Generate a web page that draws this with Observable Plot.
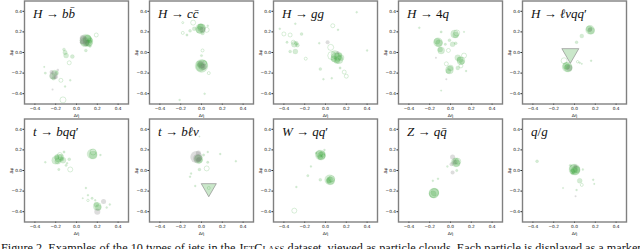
<!DOCTYPE html>
<html><head><meta charset="utf-8">
<script src="https://cdn.jsdelivr.net/npm/d3@7"></script>
<script src="https://cdn.jsdelivr.net/npm/@observablehq/plot@0.6"></script>
<style>
html,body{margin:0;padding:0;background:#fff;overflow:hidden;}
#wrap{position:relative;width:640px;height:249px;overflow:hidden;background:#fff;}
#cap{position:absolute;left:1px;white-space:nowrap;font-family:"Liberation Serif","Times New Roman",serif;color:#111;line-height:1;}
#cap .sc{font-variant:small-caps;}
</style></head><body><div id="wrap"></div>
<script>
// Jet titles (categories)
const titles = ["H → bb\u0304", "H → cc\u0304", "H → gg", "H → 4q", "H → ℓνqq′",
                "t → bqq′", "t → bℓν", "W → qq′", "Z → qq\u0304", "q/g"];
const ticks = [-0.4, -0.2, 0, 0.2, 0.4];
// particles: [Δη, Δφ, size, type]  type: ch = charged, nh = neutral, ph = photon, lep = lepton
const hbb = [
 [0.09,0.12,6,"ch"],[0.11,0.11,5,"ch"],[0.08,0.10,4.5,"ch"],[0.10,0.13,4,"ch"],[0.12,0.09,3.5,"ch"],[0.07,0.12,4,"ph"],[0.09,0.09,3,"ph"],[0.06,0.14,3,"ph"],[0.11,0.14,3,"nh"],[0.13,0.12,2.5,"ch"],[0.10,0.10,2.5,"ch"],[0.05,0.10,2,"ph"],
 [0.19,0.17,2,"nh"],[0.09,0.02,1.5,"ch"],[0.13,0.06,1.2,"ch"],
 [-0.22,-0.22,4,"ph"],[-0.21,-0.20,3,"ch"],[-0.23,-0.23,3,"ch"],[-0.20,-0.24,2,"ph"],[-0.24,-0.19,2,"ph"],[-0.19,-0.20,2,"ch"],[-0.22,-0.25,2,"ch"],[-0.18,-0.17,1.2,"ph"],
 [-0.11,0.00,2.2,"ch"],[-0.12,0.03,1.5,"ch"],[-0.10,-0.03,2.5,"ch"],[-0.04,-0.04,2,"ch"],[-0.07,-0.10,2,"nh"],[-0.15,-0.27,2,"nh"],[-0.06,-0.27,1,"ch"],[-0.11,-0.33,1,"ch"],[-0.23,-0.36,1,"ph"],[-0.30,-0.20,1.2,"ch"],[-0.31,-0.14,0.8,"ch"],[-0.13,-0.46,3,"nh"]
];
const hcc = [
 [-0.01,0.23,5,"ch"],[0.00,0.24,4,"ch"],[-0.02,0.22,3.5,"ch"],[0.01,0.22,3,"ph"],[-0.01,0.25,3,"ch"],[0.05,0.22,2.5,"nh"],[-0.08,0.29,2.5,"nh"],[-0.18,0.29,1,"nh"],[-0.11,0.21,1.5,"ch"],[-0.18,0.19,1.5,"nh"],[-0.14,0.17,1.2,"ch"],[-0.07,0.23,2,"ch"],[0.01,0.19,2,"ch"],[0.06,0.26,1,"ch"],
 [0.00,-0.13,6.5,"ch"],[0.01,-0.12,5,"ch"],[-0.01,-0.14,4.5,"ch"],[0.00,-0.12,3.5,"ph"],[0.02,-0.14,3,"ph"],[-0.02,-0.11,3,"ch"],[0.00,-0.13,2.5,"ch"],[0.03,-0.10,2,"nh"],
 [0.01,0.02,1.5,"nh"],[0.00,-0.03,1.2,"ch"],[0.07,-0.20,1.5,"nh"],[0.03,-0.40,1,"ch"],[-0.21,-0.46,1,"ch"]
];
const hgg = [
 [0.10,-0.05,5,"ch"],[0.12,-0.04,4,"ch"],[0.13,-0.07,4,"ch"],[0.09,-0.02,4,"ch"],[0.08,-0.06,3,"ch"],[0.15,-0.05,3,"ch"],[0.11,-0.08,3,"ch"],[0.14,-0.02,2,"ch"],[0.12,0.00,1.5,"ph"],[0.06,-0.03,4,"nh"],
 [-0.30,0.08,3,"ch"],[-0.28,0.09,2,"ch"],[-0.31,0.10,2,"nh"],[-0.27,0.07,2,"ch"],
 [-0.40,0.18,2,"nh"],[-0.34,0.17,2,"nh"],[-0.37,0.10,1.2,"ch"],[-0.29,0.01,2.5,"ch"],[-0.34,0.01,1.5,"ch"],[-0.23,0.18,1.5,"ch"],[-0.44,0.23,1,"ch"],[-0.29,0.28,1,"ch"],[-0.19,-0.06,1.5,"nh"],
 [-0.06,0.09,1,"ch"],[0.02,0.10,2,"ph"],[0.05,0.05,3,"nh"],[0.07,0.26,2,"nh"],[0.12,0.22,1,"ch"],[-0.05,-0.16,1.5,"ch"],[-0.02,-0.26,1,"ch"],[0.06,-0.25,1,"ch"],[0.18,-0.19,2,"nh"],[0.20,-0.23,2,"nh"],[0.14,-0.15,1.2,"ch"],[0.30,0.39,1,"ch"],[0.40,0.02,1,"ch"]
];
const h4q = [
 [-0.12,0.10,4.5,"ch"],[-0.11,0.09,3.5,"ch"],[-0.13,0.11,3,"ch"],
 [-0.09,0.02,3.5,"ch"],[-0.10,0.03,2.5,"ch"],
 [0.04,0.18,4,"ch"],[0.05,0.17,3,"ch"],[0.06,0.19,3,"nh"],
 [0.10,-0.08,4,"ch"],[0.09,-0.07,3,"ch"],[0.07,-0.05,3,"ch"],[0.11,-0.09,2.5,"ch"],
 [-0.01,-0.17,4,"ch"],[0.00,-0.15,3,"ch"],[-0.02,-0.18,2.5,"ch"],
 [0.07,-0.15,2,"ch"],[0.02,0.08,2.5,"ch"],[-0.01,0.12,1.5,"ch"],[-0.02,0.02,2,"nh"],[-0.09,0.20,1.2,"ch"],[0.13,-0.03,2.5,"nh"],[0.10,-0.13,2,"nh"],[-0.30,0.24,1,"ch"],[-0.14,-0.05,1,"ph"],[-0.04,-0.11,2,"nh"],[-0.04,-0.26,1,"ph"],[0.15,-0.18,1,"ch"],[-0.09,-0.37,0.8,"ch"],[0.13,0.20,0.8,"ch"],[0.05,0.09,1.5,"ch"],[-0.05,0.08,1.2,"ch"]
];
const hlvqq = [
 [-0.04,-0.01,6.3,"lep"],
 [-0.07,-0.14,5,"ch"],[-0.06,-0.15,4,"ch"],[-0.08,-0.13,3.5,"ch"],[-0.05,-0.15,3,"ph"],[-0.07,-0.14,2.5,"ch"],
 [-0.10,-0.08,3,"nh"],[0.03,-0.09,1.2,"nh"],[0.05,-0.10,1,"ch"],[0.07,-0.11,0.8,"ch"],[0.16,-0.08,1,"ch"],
 [0.15,0.22,4.5,"ch"],[0.16,0.21,3.5,"ch"],[0.14,0.23,3,"ch"],[0.15,0.22,2,"ph"],
 [0.07,0.16,2,"ch"],[0.02,0.10,1.5,"ch"]
];
const tbqq = [
 [-0.20,0.10,4,"ch"],[-0.17,0.12,4,"ch"],[-0.15,0.13,3,"ch"],[-0.13,0.10,3,"ch"],[-0.18,0.09,3,"ch"],[-0.16,0.15,2.5,"nh"],[-0.19,0.13,2.5,"ch"],[-0.14,0.11,2,"ch"],
 [-0.12,0.18,1.2,"ch"],[-0.07,0.11,1.5,"ch"],[-0.06,0.01,2.5,"nh"],[-0.10,0.05,1.2,"ch"],[-0.17,0.01,1.2,"ch"],[-0.30,0.08,1,"ch"],[-0.09,0.07,1,"ch"],
 [0.15,0.16,5,"ch"],[0.16,0.15,4,"ch"],[0.16,0.18,3,"nh"],[0.23,0.15,1,"ch"],
 [0.20,-0.35,4,"ch"],[0.21,-0.36,3,"ch"],[0.26,-0.30,2.5,"ph"],[0.20,-0.40,3,"ph"],[0.19,-0.33,2.5,"ch"],
 [0.09,-0.17,1,"ch"],[0.11,-0.24,1,"ch"],[0.15,-0.27,1.2,"ch"],[0.18,-0.29,1,"ch"],[0.11,-0.29,1.2,"nh"],[0.29,-0.36,1,"ch"],[0.32,-0.33,1,"ch"],[0.06,-0.27,0.8,"ch"]
];
const tblv = [
 [0.07,-0.17,5.6,"lep"],[0.07,-0.17,1.5,"nh"],
 [-0.05,0.13,6,"ph"],[-0.04,0.12,4,"ph"],[-0.03,0.11,4.5,"ch"],[-0.03,0.12,3.5,"ch"],[-0.02,0.10,3,"ch"],[-0.03,0.17,2.5,"ph"],[-0.03,0.11,2,"ph"],
 [0.05,0.02,2.5,"nh"],[-0.02,0.01,1.5,"ch"],[0.06,0.08,1.2,"ch"],[0.18,0.16,1,"ch"],[0.33,0.09,1,"ch"],[-0.10,-0.03,1,"ch"],[-0.11,-0.06,1,"ch"],[-0.06,-0.15,1,"ch"],[-0.02,0.33,0.8,"ch"],[0.06,0.18,1,"ch"],[0.02,0.15,1.2,"ch"]
];
const wqq = [
 [-0.05,0.15,5,"ch"],[-0.04,0.14,4,"ch"],[-0.06,0.16,3.5,"ch"],[-0.03,0.16,3,"ch"],[-0.05,0.13,2.5,"ch"],[-0.02,0.14,2,"nh"],
 [0.04,-0.09,5,"ch"],[0.05,-0.10,4,"ch"],[0.04,-0.09,3,"ch"],[0.06,-0.08,3,"nh"],[0.03,-0.10,2.5,"ch"],
 [-0.14,0.04,1,"ch"],[-0.17,-0.05,1.2,"ch"],[-0.05,-0.09,1.5,"ch"],[-0.28,-0.16,1,"ch"],[-0.30,-0.39,2.5,"nh"],[-0.01,0.20,1,"ch"],[-0.09,0.17,1,"ch"]
];
const zqq = [
 [0.05,0.08,4.5,"ch"],[0.06,0.07,3.5,"ch"],[0.05,0.09,3,"ch"],[0.04,0.08,2.5,"ph"],[0.07,0.09,3,"nh"],[0.02,0.13,2.5,"ph"],[0.01,0.06,2,"ph"],[0.02,-0.02,2,"ph"],[0.06,0.00,1.2,"ch"],[-0.03,0.04,1,"ch"],
 [-0.16,-0.22,5,"ch"],[-0.15,-0.21,4,"ch"],[-0.17,-0.23,3.5,"ch"],[-0.16,-0.22,4.5,"nh"],
 [-0.12,-0.08,1,"ch"],[-0.17,-0.10,1,"ch"]
];
const qg = [
 [0.00,0.01,5.5,"ch"],[0.01,0.00,4.5,"ch"],[-0.01,0.02,4,"ch"],[0.02,0.01,3.5,"ch"],[0.00,0.00,3,"ch"],[0.01,0.04,2,"ph"],[-0.02,-0.01,2.5,"ch"],
 [-0.04,0.05,1.2,"ch"],[-0.36,0.09,1.5,"ch"],[0.05,-0.10,2.5,"ch"],[0.07,-0.14,1.5,"nh"],[0.02,-0.19,1,"ch"],[0.01,-0.25,1,"ph"],[0.18,-0.09,1,"ch"],[0.19,-0.13,0.8,"ch"],[-0.11,-0.17,0.8,"ch"],[0.08,0.01,1,"ch"],[-0.02,-0.03,1.2,"ch"]
];
const jets = [hbb, hcc, hgg, h4q, hlvqq, tbqq, tblv, wqq, zqq, qg];

const wrap = document.getElementById("wrap");
const svgNS = "http://www.w3.org/2000/svg";
const colStep = 124.5, rowTop = [0, 118.3];
const fx = d => d[0], fy = d => d[1], fr = d => d[2];
const of = k => rows => rows.filter(d => d[3] === k);

function styleTitle(el) {
  const s = el.textContent; el.textContent = "";
  const parts = [];
  for (const ch of s) {
    const comb = /[\u0300-\u036f]/.test(ch);
    const it = /[A-Za-zℓν]/.test(ch);
    if (comb && parts.length) { parts[parts.length - 1].t += ch; continue; }
    if (parts.length && parts[parts.length - 1].it === it) parts[parts.length - 1].t += ch;
    else parts.push({t: ch, it});
  }
  for (const p of parts) {
    const ts = document.createElementNS(svgNS, "tspan");
    ts.textContent = p.t;
    ts.setAttribute("font-style", p.it ? "italic" : "normal");
    ts.style.fontStyle = p.it ? "italic" : "normal";
    el.appendChild(ts);
  }
}

jets.forEach((data, i) => {
  const col = i % 5, row = Math.floor(i / 5);
  const svg = Plot.plot({
    width: 130, height: 120,
    marginLeft: 24, marginRight: 2, marginTop: 0.5, marginBottom: 16.5,
    x: {domain: [-0.5, 0.5]},
    y: {domain: [-0.5, 0.5]},
    r: {type: "linear", domain: [0, 8], range: [0, 8]},
    style: {background: "transparent", fontFamily: "DejaVu Sans", color: "#111"},
    marks: [
      Plot.axisX({ticks, tickFormat: d3.format(".1f"), tickSize: 1.5, tickPadding: 1, fontSize: 4.3,
        label: "Δη", labelAnchor: "center", labelArrow: "none", labelOffset: 12.5}),
      Plot.axisY({ticks, tickFormat: d3.format(".1f"), tickSize: 1.5, tickPadding: 1, fontSize: 4.3,
        label: "Δφ", labelAnchor: "center", labelArrow: "none", labelOffset: 15}),
      Plot.dot(of("nh")(data), {x: fx, y: fy, r: fr, fill: "none", stroke: "#2ca02c", strokeOpacity: 0.3, strokeWidth: 0.6, clip: true}),
      Plot.dot(of("ch")(data), {x: fx, y: fy, r: fr, fill: "#2ca02c", fillOpacity: 0.2, stroke: "#2ca02c", strokeOpacity: 0.12, strokeWidth: 0.5, clip: true}),
      Plot.dot(of("ph")(data), {x: fx, y: fy, r: fr, fill: "#777", fillOpacity: 0.25, stroke: "none", clip: true}),
      Plot.dot(of("lep")(data), {x: fx, y: fy, r: fr, symbol: "triangle", rotate: 180, fill: "#2ca02c", fillOpacity: 0.25, stroke: "#888", strokeOpacity: 0.8, strokeWidth: 0.8, clip: true}),
      Plot.frame({stroke: "#808080", strokeWidth: 1.4}),
      Plot.text([titles[i]], {text: d => d, frameAnchor: "top-left", dx: 8.5, dy: 7.5, lineAnchor: "top", textAnchor: "start",
        fontSize: 13, fontFamily: "Liberation Serif", fill: "#111"})
    ]
  });
  svg.style.position = "absolute";
  svg.style.left = (col * colStep) + "px";
  svg.style.top = rowTop[row] + "px";
  svg.style.maxWidth = "none";
  svg.style.overflow = "visible";
  wrap.appendChild(svg);
  svg.querySelectorAll("text").forEach(t => { if (t.textContent === titles[i]) styleTitle(t); });
});

// caption
const cap = document.createElement("div");
cap.id = "cap";
cap.innerHTML = 'Figure 2. Examples of the 10 types of jets in the <span class="sc">JetClass</span> dataset, viewed as particle clouds. Each particle is displayed as a marker';
cap.style.fontSize = "12px";
wrap.appendChild(cap);
const w12 = cap.getBoundingClientRect().width;
const fs = 12 * 638 / w12;
cap.style.fontSize = fs + "px";
cap.style.top = (244.3 - 0.1755 * fs) + "px";
</script></body></html>
